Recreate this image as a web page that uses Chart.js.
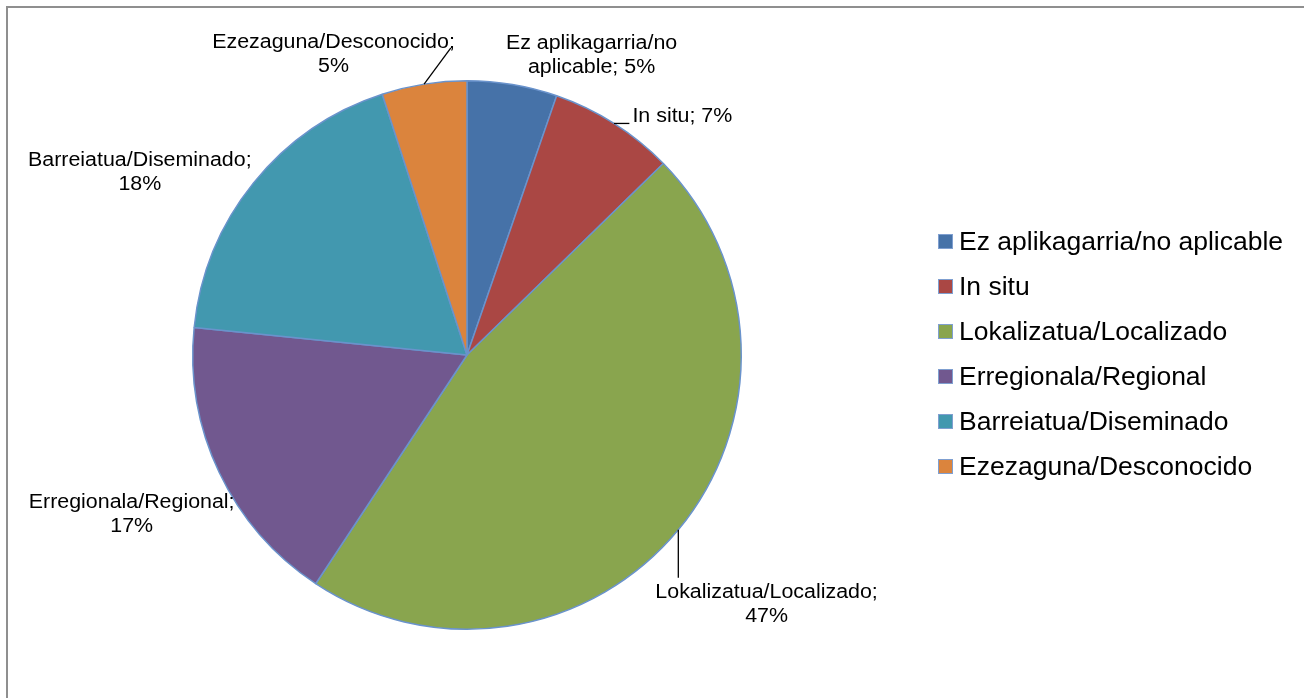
<!DOCTYPE html>
<html>
<head>
<meta charset="utf-8">
<script src="https://cdn.jsdelivr.net/npm/chart.js@4"></script>
<style>
    html, body { margin: 0; padding: 0; background: #fff; overflow: hidden; }
    #frame { position: absolute; left: 6px; top: 6px; width: 1330px; height: 730px;
             border-left: 2px solid #8f8f8f; border-top: 2px solid #8f8f8f; }
    #wrap { position: absolute; left: 0; top: 0; width: 1304px; height: 698px; }
    #legend { position: absolute; left: 938px; top: 219px; margin: 0; padding: 0; list-style: none;
              font-family: 'Liberation Sans', Arial, sans-serif; font-size: 26.5px; color: #000; }
    #legend li { height: 45px; display: flex; align-items: center; white-space: nowrap; }
    #legend .sw { width: 15px; height: 15px; box-sizing: border-box; border: 1px solid #7f9fd0; margin-right: 6px; }
</style>
</head>
<body>
<div id="frame"></div>
<div id="wrap"><canvas id="pieChart" width="1304" height="698"></canvas></div>
<ul id="legend"></ul>
<script>
// Categories and shares
const categories = [
    'Ez aplikagarria/no aplicable',
    'In situ',
    'Lokalizatua/Localizado',
    'Erregionala/Regional',
    'Barreiatua/Diseminado',
    'Ezezaguna/Desconocido'
];
const values = [5.3, 7.4, 46.6, 17.3, 18.4, 5.0];
const sliceColors = ['#4672a8', '#aa4744', '#89a54e', '#71588f', '#4298af', '#db843d'];

// Label placement tweaks (style only): shift from default spot, leader line mode
const labelNudge = [[70, 25], [39, 39], [46, 40], [-38, 18], [-71, 24], [-82, 25]];
const leaderMode = ['none', 'box', 'box', 'none', 'none', 'corner'];

const FONT = "20px 'Liberation Sans', Arial, sans-serif";
const STRETCH = 1.07;
const LINE_H = 24;
const WRAP_W = 235;

function wrapLabel(ctx, text) {
    const words = text.split(' ');
    const lines = [];
    let cur = '';
    words.forEach(w => {
        const test = cur ? cur + ' ' + w : w;
        if (cur && ctx.measureText(test).width * STRETCH > WRAP_W) {
            lines.push(cur);
            cur = w;
        } else {
            cur = test;
        }
    });
    if (cur) lines.push(cur);
    return lines;
}

// Data labels with leader lines, drawn outside the pie
const pieLabels = {
    id: 'pieLabels',
    afterDatasetsDraw(chart) {
        const ctx = chart.ctx;
        const meta = chart.getDatasetMeta(0);
        const data = chart.data.datasets[0].data;
        const total = data.reduce((a, b) => a + b, 0);
        ctx.save();
        ctx.font = FONT;
        ctx.fillStyle = '#000';
        ctx.textBaseline = 'middle';
        meta.data.forEach((arc, i) => {
            const mid = (arc.startAngle + arc.endAngle) / 2;
            const r = arc.outerRadius;
            const cx = arc.x, cy = arc.y;
            const pct = Math.round(data[i] / total * 100);
            const lines = wrapLabel(ctx, chart.data.labels[i] + '; ' + pct + '%');
            const ax = cx + Math.cos(mid) * r * 1.2 + labelNudge[i][0];
            const ay = cy + Math.sin(mid) * r * 1.2 + labelNudge[i][1];
            const widths = lines.map(l => ctx.measureText(l).width * STRETCH);
            const blockW = Math.max(...widths);
            const top = ay - lines.length * LINE_H / 2;

            lines.forEach((l, k) => {
                const y = top + LINE_H * (k + 0.5);
                ctx.save();
                ctx.translate(ax, y);
                ctx.scale(STRETCH, 1);
                ctx.textAlign = 'center';
                ctx.fillText(l, 0, 0);
                ctx.restore();
            });

            if (leaderMode[i] !== 'none') {
                const ex = cx + Math.cos(mid) * r;
                const ey = cy + Math.sin(mid) * r;
                let tx, ty;
                if (leaderMode[i] === 'box') {
                    const x0 = ax - blockW / 2 - 3, x1 = ax + blockW / 2 + 3;
                    const y0 = top - 3, y1 = top + lines.length * LINE_H + 3;
                    tx = Math.min(Math.max(ex, x0), x1);
                    ty = Math.min(Math.max(ey, y0), y1);
                } else {
                    tx = ax + widths[0] / 2 - 4;
                    ty = top + LINE_H - 7;
                }
                ctx.beginPath();
                ctx.moveTo(ex, ey);
                ctx.lineTo(tx, ty);
                ctx.strokeStyle = '#000';
                ctx.lineWidth = 1.3;
                ctx.stroke();
            }
        });
        ctx.restore();
    }
};

const chart = new Chart(document.getElementById('pieChart'), {
    type: 'pie',
    data: {
        labels: categories,
        datasets: [{
            data: values,
            backgroundColor: sliceColors,
            borderColor: '#6a93cc',
            borderWidth: 1.5
        }]
    },
    options: {
        responsive: false,
        animation: false,
        layout: { padding: { left: 192, right: 562, top: 80, bottom: 68 } },
        plugins: {
            legend: { display: false },
            tooltip: { enabled: false }
        }
    },
    plugins: [pieLabels]
});

// HTML legend on the right
const legendEl = document.getElementById('legend');
categories.forEach((name, i) => {
    const li = document.createElement('li');
    const sw = document.createElement('span');
    sw.className = 'sw';
    sw.style.background = sliceColors[i];
    const tx = document.createElement('span');
    tx.textContent = name;
    li.appendChild(sw);
    li.appendChild(tx);
    legendEl.appendChild(li);
});
</script>
</body>
</html>
